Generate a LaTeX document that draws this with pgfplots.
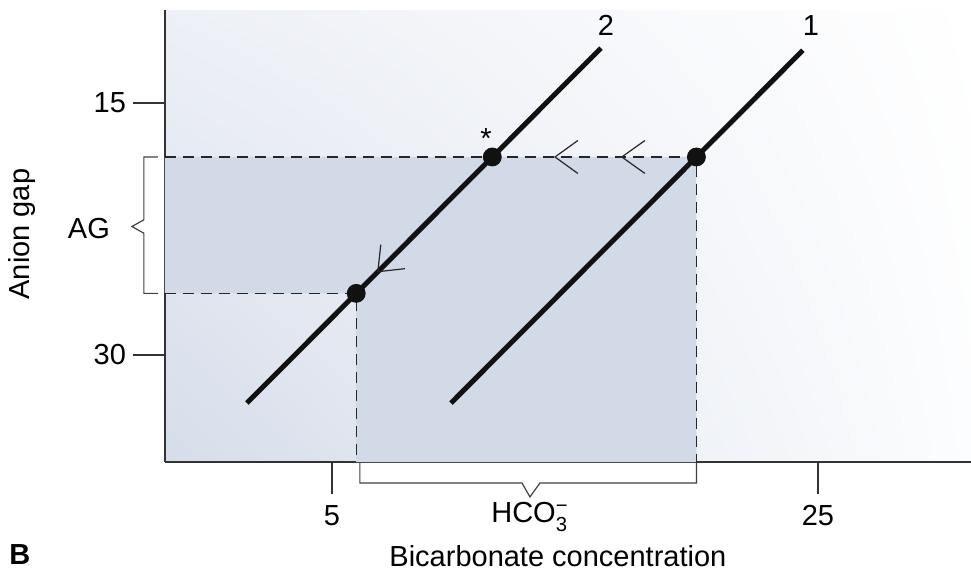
\documentclass[border=0pt]{standalone}
\usepackage{pgfplots}
\pgfplotsset{compat=1.18}
\usetikzlibrary{shadings}
\usepackage{amsmath}
\usepackage{fontspec}
\setmainfont{Liberation Sans}
\newcommand\fs{\fontsize{14.5}{17}\selectfont}
\definecolor{shadeblue}{HTML}{D2D9E7}
\definecolor{bgll}{HTML}{D6DDEA}
\definecolor{bgul}{HTML}{EDF0F6}
\definecolor{bglr}{HTML}{FCFDFE}
\definecolor{ink}{HTML}{111111}
\begin{document}
\begin{tikzpicture}
\path[use as bounding box] (-82.5pt,-58.5pt) rectangle (403pt,231pt);
\begin{axis}[
  at={(0,0)}, anchor=south west,
  width=403pt, height=226pt, scale only axis,
  xmin=-1.87, xmax=31.3, ymin=9.46, ymax=36.37, y dir=reverse,
  axis lines=left, axis line style={-, line width=0.75pt, black!80},
  xtick={5,25}, ytick={15,30},
  tick align=outside, major tick length=16pt,
  tick style={line width=0.6pt, black!80},
  ticklabel style={font=\fs},
  xticklabel style={yshift=-2pt},
  /pgf/number format/assume math mode=true,
  clip=false,
  axis background/.style={shade, lower left=bgll, upper left=bgul, lower right=bglr, upper right=white},
  dash/.style={line width=0.7pt, black!85, dash pattern=on 5.5pt off 3.5pt},
  chev/.style={line width=0.6pt, black!85},
  brk/.style={line width=0.6pt, black!75},
]
% shaded region
\addplot[fill=shadeblue, draw=none] coordinates {(-1.87,18.21)(20,18.21)(20,36.37)(6,36.37)(6,26.33)(-1.87,26.33)} -- cycle;
% dashed guides
\addplot[dash] coordinates {(-1.87,18.21)(20,18.21)(20,36.37)};
\addplot[dash] coordinates {(-1.87,26.33)(6,26.33)(6,36.37)};
% lines 2 and 1
\addplot[line width=2.5pt, ink] coordinates {(1.5,32.86)(16.07,11.73)};
\addplot[line width=2.5pt, ink] coordinates {(9.9,32.86)(24.38,11.86)};
% dots
\addplot[only marks, mark=*, mark size=4.5pt, ink] coordinates {(20,18.21)(11.6,18.21)(6,26.33)};
% chevrons
\addplot[chev] coordinates {(15.12,17.23)(14.18,18.21)(15.12,19.19)};
\addplot[chev] coordinates {(17.88,17.23)(16.93,18.21)(17.88,19.19)};
\addplot[chev] coordinates {(7.01,23.43)(6.89,25.04)(8.0,24.86)};
% brackets
\addplot[brk] coordinates {(-2.16,18.21)(-2.74,18.21)(-2.74,21.95)(-3.23,22.35)(-2.74,22.75)(-2.74,26.33)(-2.16,26.33)};
\addplot[brk] coordinates {(6.15,36.37)(6.15,37.62)(12.82,37.62)(13.15,38.45)(13.56,37.62)(20.0,37.62)(20.0,36.37)};
% labels
\node[font=\fs, anchor=base] at (axis cs:16.28,10.95) {2};
\node[font=\fs, anchor=base] at (axis cs:24.71,10.95) {1};
\node[font=\fs, anchor=base] at (axis cs:11.34,17.7) {*};
\node[font=\fs, anchor=base] at (axis cs:-5.0,23.04) {AG};
\node[font=\fs, anchor=base] at (axis cs:13.15,40.0) {HCO$_{\text{3}}^{\text{−}}$};
\node[font=\fs, anchor=base] at (axis cs:14.30,42.62) {Bicarbonate concentration};
\node[font=\fs\bfseries, anchor=base] at (axis cs:-7.84,42.5) {B};
\node[font=\fs, rotate=90, anchor=base] at (axis cs:-7.43,22.8) {Anion gap};
\end{axis}
\end{tikzpicture}
\end{document}
